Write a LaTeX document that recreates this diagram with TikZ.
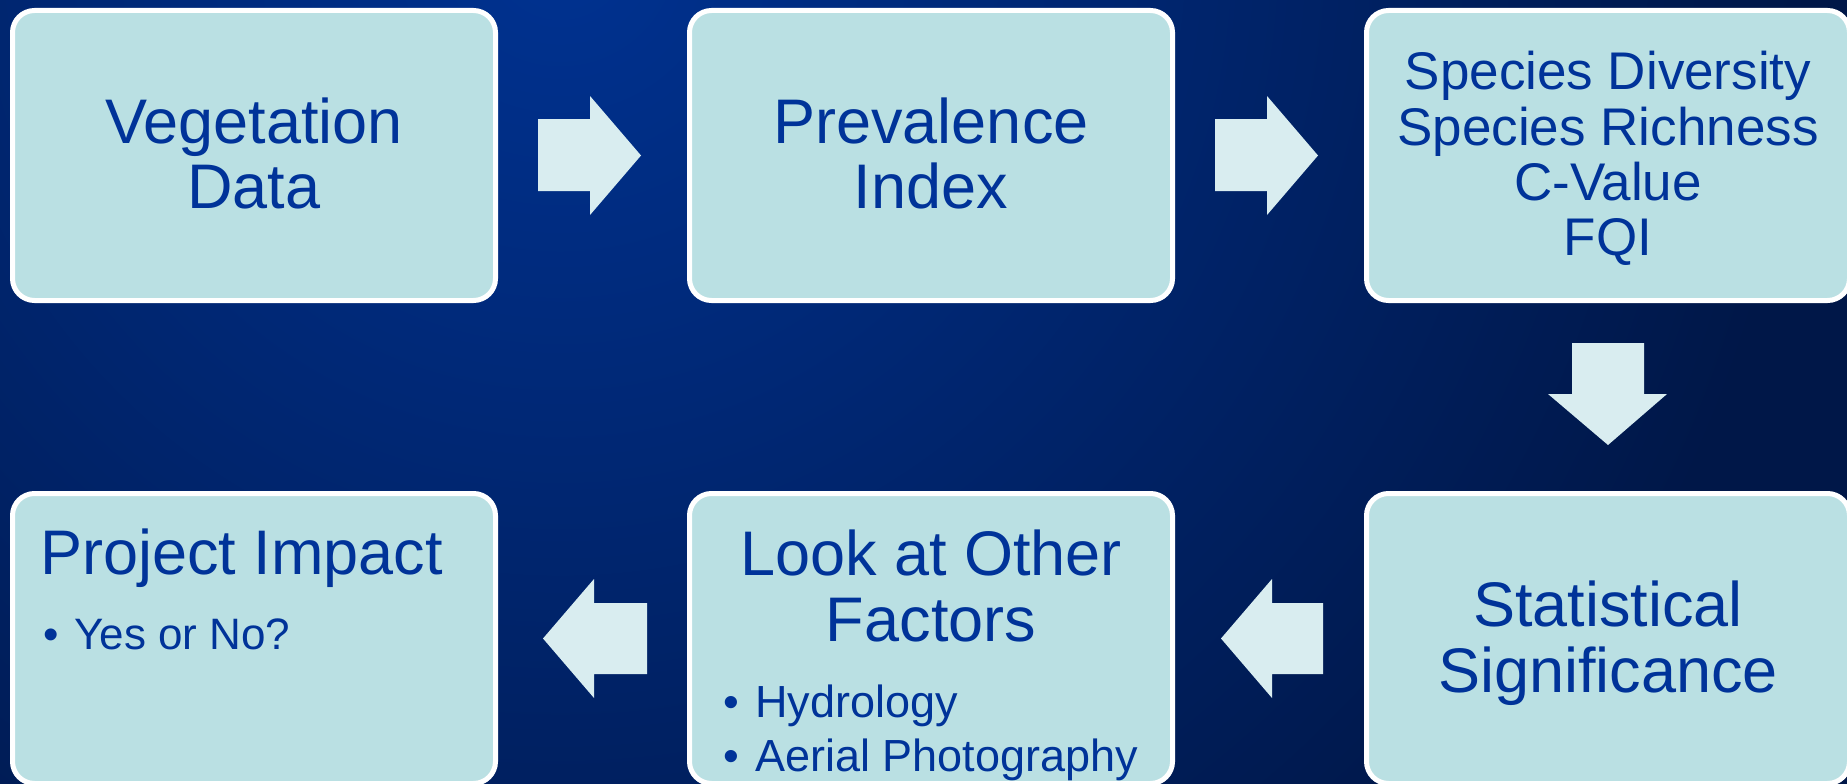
\documentclass[tikz,border=0pt]{standalone}
\usepackage{fontspec}
\setmainfont{Liberation Sans}
\definecolor{bgA}{RGB}{0,50,145}
\definecolor{bgB}{RGB}{0,23,72}
\definecolor{boxfill}{RGB}{186,224,227}
\definecolor{arrowfill}{RGB}{217,237,240}
\definecolor{txt}{RGB}{0,51,153}
\begin{document}
\begin{tikzpicture}[x=1pt,y=-1pt,
  box/.style={draw=white, line width=5pt, fill=boxfill, rounded corners=22pt,
              minimum width=483pt, minimum height=290pt, inner sep=0pt},
  ln/.style={text=txt, inner sep=0pt, anchor=base},
  big/.style={ln, font=\fontsize{63pt}{65pt}\selectfont},
  mid/.style={ln, font=\fontsize{53pt}{56pt}\selectfont},
  small/.style={ln, anchor=base west, font=\fontsize{45pt}{54pt}\selectfont},
  blockarrow/.style={fill=arrowfill, draw=none}]
\useasboundingbox (0,0) rectangle (1847,784);
\clip (0,0) rectangle (1847,784);
% background
\fill[bgB] (0,0) rectangle (1847,784);
\shade[inner color=bgA, outer color=bgB] (560,-50) circle (1250);

% boxes
\node[box] (b1) at (254,155.5) {};
\node[box] (b2) at (931,155.5) {};
\node[box] (b3) at (1608,155.5) {};
\node[box] (b4) at (254,638.5) {};
\node[box] (b5) at (931,638.5) {};
\node[box] (b6) at (1608,638.5) {};

% texts box 1
\node[big] (t1a) at (254,143) {Vegetation};
\node[big] (t1b) at (254,208) {Data};
% box 2
\node[big] (t2a) at (931,143) {Prevalence};
\node[big] (t2b) at (931,208) {Index};
% box 3
\node[mid] (t3a) at (1608,89) {Species Diversity};
\node[mid] (t3b) at (1608,145) {Species Richness};
\node[mid] (t3c) at (1608,200) {C-Value};
\node[mid] (t3d) at (1608,255) {FQI};
% box 6
\node[big] (t6a) at (1608,626) {Statistical};
\node[big] (t6b) at (1608,692) {Significance};
% box 5
\node[big] (t5a) at (931,575) {Look at Other};
\node[big] (t5b) at (931,641) {Factors};
\node[small] (u5a) at (723,717) {•};
\node[small] (v5a) at (755,717) {Hydrology};
\node[small] (u5b) at (723,771) {•};
\node[small] (v5b) at (755,771) {Aerial Photography};
% box 4
\node[big, anchor=base west] (t4a) at (40,574) {Project Impact};
\node[small, font=\fontsize{44pt}{52pt}\selectfont] (u4a) at (43,649) {•};
\node[small, font=\fontsize{44pt}{52pt}\selectfont] (v4a) at (74,649) {Yes or No?};

% block arrows
\fill[blockarrow] (538,119) -- (590,119) -- (590,96) -- (641,155.5) -- (590,215) -- (590,191) -- (538,191) -- cycle;
\fill[blockarrow] (1215,119) -- (1267,119) -- (1267,96) -- (1318,155.5) -- (1267,215) -- (1267,191) -- (1215,191) -- cycle;
\fill[blockarrow] (1572,343) -- (1644,343) -- (1644,394) -- (1667,394) -- (1608,445) -- (1548,394) -- (1572,394) -- cycle;
\fill[blockarrow] (1323,603) -- (1272,603) -- (1272,579) -- (1221,638.5) -- (1272,698) -- (1272,674) -- (1323,674) -- cycle;
\fill[blockarrow] (647,603) -- (594,603) -- (594,579) -- (543,638.5) -- (594,698) -- (594,674) -- (647,674) -- cycle;
\end{tikzpicture}
\end{document}
